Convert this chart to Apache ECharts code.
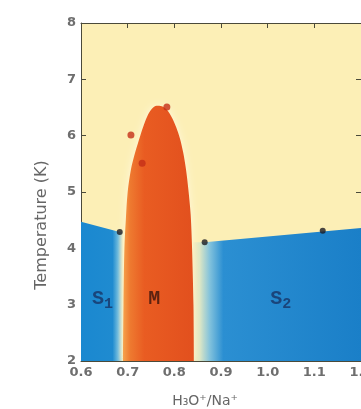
<!DOCTYPE html>
<html>
<head>
<meta charset="utf-8">
<script src="https://cdn.jsdelivr.net/npm/echarts@6/dist/echarts.min.js"></script>
<style>
html, body { margin: 0; padding: 0; background: #fff; }
#phase { width: 361px; height: 409px; }
</style>
</head>
<body>
<div id="phase"></div>
<script>
// boundary of the metallic dome (M phase)
const domeEdge = [[0.690, 2], [0.691, 3.0], [0.693, 4.0], [0.696, 4.5], [0.700, 5.0], [0.707, 5.4], [0.716, 5.7],
    [0.727, 6.0], [0.735, 6.2], [0.744, 6.38], [0.752, 6.48], [0.762, 6.53], [0.773, 6.52], [0.784, 6.46],
    [0.795, 6.32], [0.804, 6.15], [0.812, 5.95], [0.819, 5.7], [0.825, 5.4], [0.830, 5.05], [0.835, 4.6],
    [0.838, 4.0], [0.841, 3.0], [0.842, 2]];
// S1 / S2 upper boundaries
const s1Edge = [[0.6, 4.47], [0.683, 4.29], [0.69, 4.29]];
const s2Edge = [[0.84, 4.11], [0.865, 4.11], [1.2, 4.36]];
// measured points
const blackPts = [[0.683, 4.29], [0.865, 4.11], [1.118, 4.31]];
const redPts = [[0.707, 6.01], [0.731, 5.51], [0.784, 6.51]];
// region labels
const phaseLabels = [
    { name: 'S{sub|1}', value: [0.646, 3.1], color: '#183466' },
    { name: 'M', value: [0.757, 3.1], color: '#3a140c' },
    { name: 'S{sub|2}', value: [1.028, 3.1], color: '#183466' },
];
const xTicks = [0.6, 0.7, 0.8, 0.9, 1.0, 1.1, 1.2];
const yTicks = [2, 3, 4, 5, 6, 7, 8];

const chart = echarts.init(document.getElementById('phase'));
const axisColor = '#4a4a3a';
const labelFont = { color: '#6e6e6e', fontSize: 13, fontWeight: 'bold', fontFamily: 'DejaVu Sans' };

function grad(stops) {
    return new echarts.graphic.LinearGradient(0, 0, 1, 0, stops.map(s => ({ offset: s[0], color: s[1] })));
}
function areaSeries(data, color) {
    return {
        type: 'line', data: data, showSymbol: false, silent: true,
        lineStyle: { width: 0 }, areaStyle: { color: color, opacity: 1, origin: 'start' },
    };
}

const domeSeries = areaSeries(domeEdge, grad([[0, '#f6a24c'], [0.1, '#ee7a30'], [0.3, '#e95c22'], [1, '#e2501e']]));
domeSeries.smooth = 0.3;
domeSeries.areaStyle.shadowColor = 'rgba(255,250,230,0.8)';
domeSeries.areaStyle.shadowBlur = 8;

const option = {
    animation: false,
    grid: {
        left: 81, top: 23, right: 0, bottom: 48, show: true, backgroundColor: '#fcefb6', borderWidth: 0,
        outerBoundsMode: 'none', containLabel: false,
    },
    xAxis: [
        {
            type: 'value', min: xTicks[0], max: xTicks[xTicks.length - 1], interval: 0.1,
            axisLine: { lineStyle: { color: axisColor } },
            axisTick: { inside: true, length: 5, lineStyle: { color: axisColor } },
            axisLabel: Object.assign({ margin: 5, formatter: v => v.toFixed(1) }, labelFont),
            splitLine: { show: false },
        },
        {
            type: 'value', position: 'top', min: xTicks[0], max: xTicks[xTicks.length - 1], interval: 0.1,
            axisLine: { lineStyle: { color: axisColor } },
            axisTick: { inside: true, length: 5, lineStyle: { color: axisColor } },
            axisLabel: { show: false }, splitLine: { show: false },
        },
    ],
    yAxis: [
        {
            type: 'value', min: yTicks[0], max: yTicks[yTicks.length - 1], interval: 1,
            axisLine: { show: true, lineStyle: { color: axisColor } },
            axisTick: { show: true, inside: true, length: 5, lineStyle: { color: axisColor } },
            axisLabel: Object.assign({ margin: 5 }, labelFont),
            splitLine: { show: false },
        },
        {
            type: 'value', position: 'right', min: yTicks[0], max: yTicks[yTicks.length - 1], interval: 1,
            axisLine: { show: true, lineStyle: { color: axisColor } },
            axisTick: { show: true, inside: true, length: 5, lineStyle: { color: axisColor } },
            axisLabel: { show: false }, splitLine: { show: false },
        },
    ],
    series: [
        areaSeries(s1Edge, grad([[0, '#1a88d0'], [0.75, '#1f8bd0'], [0.88, '#6ab8dc'], [1, '#f4ebb8']])),
        areaSeries(s2Edge, grad([[0, '#f6e8b4'], [0.04, '#dce6c4'], [0.1, '#82c2dc'], [0.18, '#2b8fd2'], [1, '#1a7fc8']])),
        domeSeries,
        {
            type: 'scatter', data: blackPts, symbolSize: 6, silent: true, z: 4,
            itemStyle: { color: '#1a1a22' },
        },
        {
            type: 'scatter', data: redPts, symbolSize: 7, silent: true, z: 4,
            itemStyle: { color: '#c42e18' },
        },
        {
            type: 'scatter', symbolSize: 1, silent: true, itemStyle: { color: 'transparent' }, z: 5,
            data: phaseLabels.map(p => ({
                name: p.name, value: p.value,
                label: { color: p.color, rich: { sub: { color: p.color, fontSize: 15, fontWeight: 'bold', fontFamily: 'Liberation Mono', padding: [10, 0, 0, 0] } } },
            })),
            label: {
                show: true, position: 'inside', formatter: '{b}',
                fontSize: 20, fontWeight: 'bold', fontFamily: 'Liberation Mono',
            },
            labelLayout: { hideOverlap: false },
        },
    ],
    graphic: [
        {
            type: 'text', x: 42, y: 225, rotation: Math.PI / 2, silent: true,
            style: { text: 'Temperature (K)', fill: '#666', font: '16px "DejaVu Sans"', align: 'center', verticalAlign: 'middle' },
        },
        {
            type: 'text', x: 205, y: 401, silent: true,
            style: { text: 'H\u2083O\u207a/Na\u207a', fill: '#666', font: '14px "DejaVu Sans"', align: 'center', verticalAlign: 'middle' },
        },
    ],
};
chart.setOption(option);
</script>
</body>
</html>
